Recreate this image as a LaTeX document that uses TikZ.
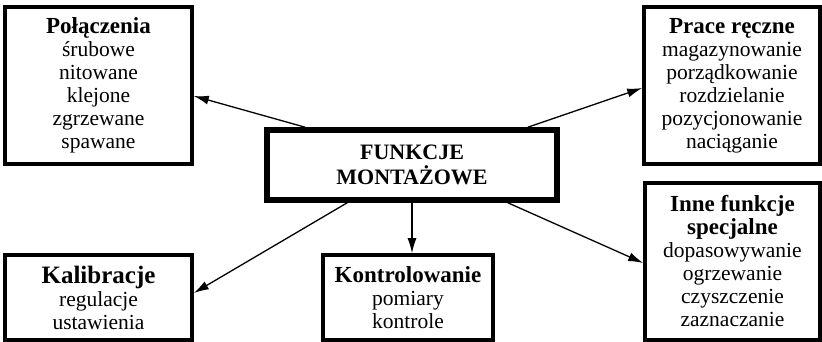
\documentclass[tikz,border=0pt]{standalone}
\usepackage{fontspec}
\setmainfont{Liberation Serif}
\usetikzlibrary{arrows.meta,calc}
\begin{document}
\begin{tikzpicture}[x=1pt,y=-1pt,
  box/.style={draw,line width=3.6pt,rectangle,align=center,inner sep=0pt,
    font=\fontsize{21.5}{23}\selectfont},
  conn/.style={line width=1.3pt,-{Latex[length=15pt,width=9pt]}}]
\useasboundingbox (0,0) rectangle (822,342);
\node[box,minimum width=187pt,minimum height=157pt] (p) at (98.5,85.5)
  {{\fontsize{23}{23}\selectfont\bfseries Połączenia}\\śrubowe\\nitowane\\klejone\\zgrzewane\\spawane};
\node[box,minimum width=176pt,minimum height=157pt] (r) at (732,85.5)
  {{\fontsize{23}{23}\selectfont\bfseries Prace ręczne}\\magazynowanie\\porządkowanie\\rozdzielanie\\pozycjonowanie\\naciąganie};
\node[box,line width=5.5pt,minimum width=290pt,minimum height=70pt,
  font=\fontsize{22}{25}\selectfont\bfseries] (c) at (412,165)
  {FUNKCJE\\MONTAŻOWE};
\node[box,minimum width=187pt,minimum height=85pt] (k) at (98.5,297.5)
  {{\fontsize{25}{25}\selectfont\bfseries Kalibracje}\\regulacje\\ustawienia};
\node[box,minimum width=170pt,minimum height=85pt] (t) at (408,297.5)
  {{\fontsize{23}{24}\selectfont\bfseries Kontrolowanie}\\pomiary\\kontrole};
\node[box,minimum width=175pt,minimum height=157pt] (i) at (732.5,261.5)
  {{\fontsize{23}{23}\selectfont\bfseries Inne funkcje}\\{\fontsize{23}{23}\selectfont\bfseries specjalne}\\dopasowywanie\\ogrzewanie\\czyszczenie\\zaznaczanie};
\draw[conn] ($(c.north west)+(41,0)$) -- ($(p.east)+(0,10.5)$);
\draw[conn] ($(c.north east)+(-32,0)$) -- ($(r.west)+(0,2.5)$);
\draw[conn] ($(c.south west)+(83,0)$) -- ($(k.east)+(0,-4.5)$);
\draw[conn] (c.south) -- (c.south |- t.north);
\draw[conn] ($(c.south east)+(-52,0)$) -- ($(i.west)+(0,1.5)$);
\end{tikzpicture}
\end{document}
